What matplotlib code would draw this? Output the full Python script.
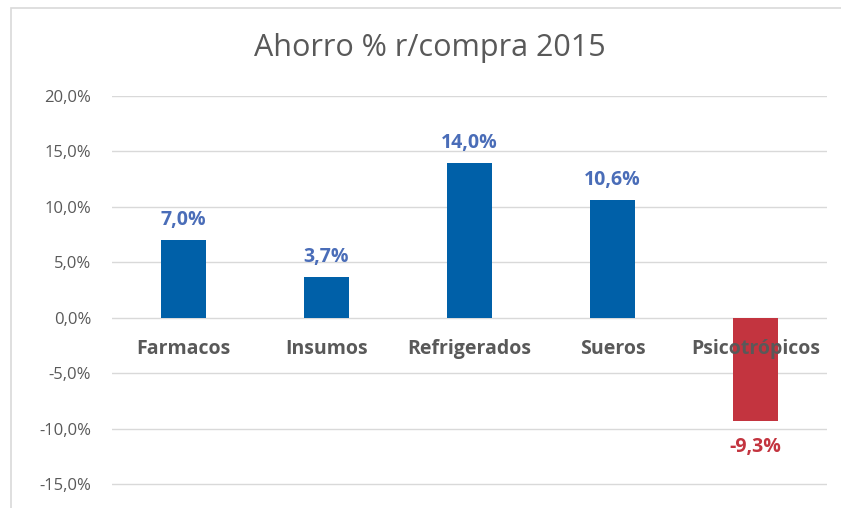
import matplotlib.pyplot as plt
from matplotlib.patches import Rectangle
from matplotlib.ticker import FuncFormatter

categories = ["Farmacos", "Insumos", "Refrigerados", "Sueros", "Psicotrópicos"]
ahorro = [7.0, 3.7, 14.0, 10.6, -9.3]
yticks = [-15, -10, -5, 0, 5, 10, 15, 20]

plt.rcParams['font.family'] = ['Open Sans', 'DejaVu Sans']

BLUE = "#0060A8"
RED = "#C3343F"
LABEL_BLUE = "#4A6DB8"
GREY = "#595959"

fig = plt.figure(figsize=(8.41, 5.08), dpi=100)
# chart frame like the spreadsheet chart (cropped at bottom / right)
fig.patches.append(Rectangle((11 / 841, -0.1), 1.2, 1 - 8 / 508 + 0.1,
                             transform=fig.transFigure, fill=False,
                             edgecolor="#D9D9D9", linewidth=1.2))

ax = fig.add_axes([112 / 841, 20 / 508, 715 / 841, 392 / 508])
x = range(len(categories))
colors = [BLUE if v >= 0 else RED for v in ahorro]
ax.bar(x, ahorro, width=0.315, color=colors, zorder=3)

ax.set_xlim(-0.5, len(categories) - 0.5)
ax.set_ylim(-15.36, 20)
ax.set_yticks(yticks)
ax.yaxis.set_major_formatter(FuncFormatter(lambda v, p: f"{v:.1f}%".replace(".", ",")))
ax.tick_params(axis="y", length=0, pad=15, labelsize=12, labelcolor=GREY)
ax.set_xticks([])
ax.grid(axis="y", color="#D9D9D9", linewidth=1, zorder=0)
for s in ax.spines.values():
    s.set_visible(False)

for i, (c, v) in enumerate(zip(categories, ahorro)):
    ax.text(i, -2.8, c, ha="center", va="center", fontsize=14,
            fontweight="bold", color=GREY, zorder=4)
    lbl = f"{v:.1f}%".replace(".", ",")
    if v >= 0:
        ax.annotate(lbl, (i, v), xytext=(0, 7), textcoords="offset points",
                    ha="center", va="bottom", fontsize=14, fontweight="bold",
                    color=LABEL_BLUE)
    else:
        ax.annotate(lbl, (i, v), xytext=(0, -12), textcoords="offset points",
                    ha="center", va="top", fontsize=14, fontweight="bold",
                    color=RED)

fig.text(430 / 841, 1 - 48 / 508, "Ahorro % r/compra 2015", ha="center",
         va="center", fontsize=22, color=GREY)

fig.savefig("out.png", dpi=100)
